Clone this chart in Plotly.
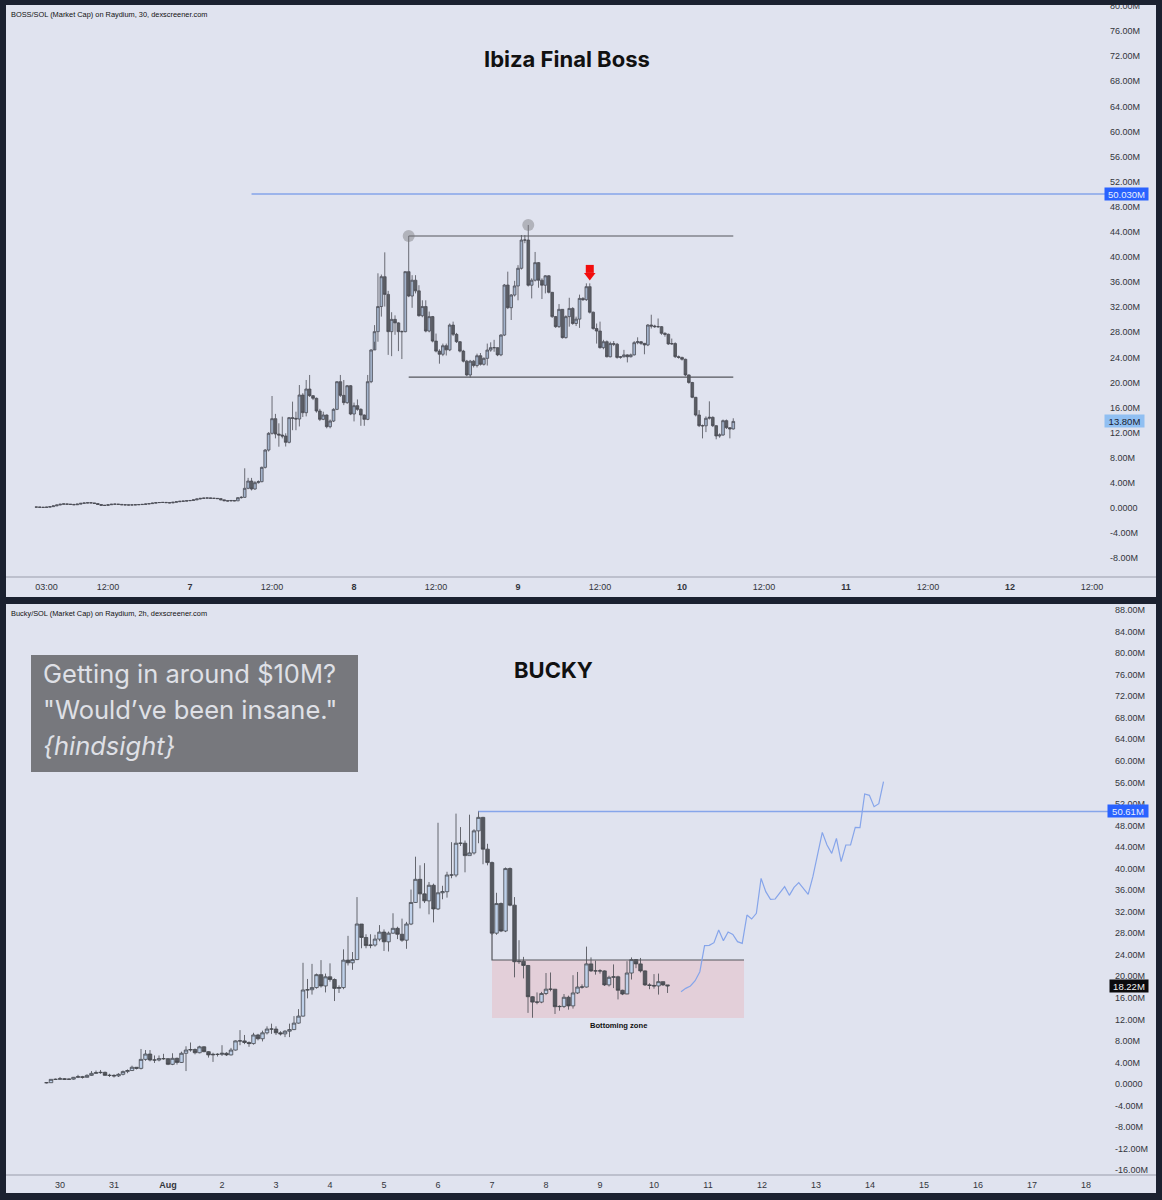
import pandas as pd
import plotly.graph_objects as go

W, H = 1162, 1200
BG = "#1b2130"
PANEL = "#e0e3ef"
BLUE = "#86a5ea"
WICK = "#4b4d55"
FONT = "Liberation Sans"

# ---- BOSS/SOL 30m, values in millions
boss_close = [
    .15, .12, .1, .14, .22, .34, .48, .6, .66, .6,
    .58, .52, .62, .75, .8, .84, .82, .72, .56, .43,
    .42, .52, .6, .62, .58, .52, .5, .48, .5, .52,
    .55, .58, .64, .7, .78, .86, .88, .9, .86, .82,
    .92, 1.0, 1.07, 1.1, 1.16, 1.2, 1.3, 1.44, 1.54, 1.58,
    1.6, 1.56, 1.54, 1.5, 1.3, 1.17, 1.12, 1.2, 1.14, 1.65,
    1.7, 3.14, 4.3, 3.03, 4.04, 4.2, 6.48, 9.24, 11.9, 14.24,
    11.79, 11.63, 11.47, 10.47, 14.4, 14.29, 14.18, 18.0, 15.19, 18.96,
    17.9, 17.48, 15.46, 14.13, 14.82, 12.96, 13.86, 15.72, 20.13, 17.95,
    16.79, 19.49, 14.98, 16.31, 15.72, 14.82, 14.13, 20.13, 25.18,
    28.1, 32.1, 36.86, 34.04, 28.1, 30.06, 29.5, 28.1, 28.1, 37.66,
    33.78, 36.3, 34.6, 30.64, 32.1, 28.2, 30.5, 26.6, 25.0, 24.5,
    25.86, 25.2, 29.15, 27.67, 26.5, 25.0, 23.4, 21.2, 23.4, 22.7,
    24.27, 22.9, 23.85, 25.17, 25.55, 25.55, 24.4, 27.56, 35.53, 31.92,
    33.94, 35.38, 38.2, 42.7, 42.7, 35.5, 36.3, 39.1, 36.3, 35.5,
    37.0, 34.37, 30.5, 28.9, 31.66, 27.15, 30.5, 31.8, 29.4, 30.1,
    33.4, 33.2, 35.27, 31.2, 28.6, 28.2, 25.55, 26.5, 24.1, 26.2, 26.1,
    24.0, 24.1, 24.4, 24.1, 24.4, 26.35, 26.5, 26.24, 25.98, 29.16,
    29.0, 28.9, 28.9, 27.84, 27.68, 26.14, 26.2, 24.12, 24.0, 23.7,
    21.2, 20.0, 17.64, 14.82, 13.12, 13.1, 14.3, 14.45, 13.12, 11.48,
    11.64, 13.92, 12.8, 12.6, 13.8,
]
boss_high = [
    .2, .18, .16, .2, .28, .4, .54, .66, .72, .68,
    .64, .6, .68, .8, .86, .9, .9, .8, .7, .5,
    .48, .58, .66, .68, .64, .58, .56, .54, .56, .58,
    .6, .64, .7, .76, .84, .92, .94, .96, .94, .9,
    .98, 1.06, 1.14, 1.16, 1.22, 1.26, 1.36, 1.5, 1.6, 1.64,
    1.66, 1.64, 1.6, 1.58, 1.52, 1.24, 1.2, 1.28, 1.22, 1.75,
    1.9, 6.33, 4.8, 4.8, 4.3, 4.4, 6.6, 9.4, 12.1, 17.85,
    15.0, 13.5, 14.56, 11.9, 14.5, 16.95, 15.35, 19.6, 18.3, 20.4,
    21.2, 18.0, 17.6, 15.8, 15.35, 14.9, 14.1, 15.9, 20.2, 21.2,
    20.4, 19.6, 19.6, 16.8, 17.3, 15.9, 14.9, 21.2, 25.3,
    29.15, 37.4, 37.2, 40.74, 34.6, 31.2, 30.7, 29.6, 28.3, 37.7,
    43.34, 37.1, 37.1, 35.5, 33.1, 33.1, 31.3, 30.6, 27.8, 25.3,
    26.2, 26.2, 29.4, 29.7, 27.9, 26.6, 25.2, 23.6, 23.6, 23.6,
    24.6, 24.7, 24.0, 26.2, 26.4, 26.8, 25.6, 27.7, 35.7, 37.66,
    34.1, 36.2, 38.7, 43.5, 43.5, 45.1, 36.6, 40.8, 39.2, 36.6,
    37.1, 37.1, 34.4, 30.6, 32.5, 31.7, 30.7, 33.5, 32.0, 30.5,
    34.0, 33.6, 35.8, 35.8, 31.3, 29.4, 29.7, 26.8, 26.7, 26.5, 26.6,
    26.3, 24.2, 25.2, 24.5, 24.6, 26.6, 27.2, 26.6, 26.3, 29.3,
    30.8, 29.2, 30.2, 29.0, 28.0, 27.8, 27.0, 26.4, 24.3, 24.1,
    23.8, 21.3, 20.1, 17.7, 15.6, 13.3, 14.6, 17.0, 14.6, 13.2,
    11.9, 14.1, 14.1, 12.9, 14.3,
]
boss_low = [
    .1, .08, .06, .08, .12, .2, .3, .44, .56, .54,
    .52, .46, .48, .58, .72, .76, .76, .66, .5, .38,
    .36, .38, .48, .56, .52, .46, .44, .42, .44, .46,
    .48, .52, .54, .62, .66, .74, .82, .82, .8, .76,
    .76, .88, .96, 1.02, 1.06, 1.12, 1.18, 1.26, 1.38, 1.5,
    1.52, 1.5, 1.48, 1.44, 1.24, 1.1, 1.06, 1.08, 1.08, 1.15,
    1.5, 1.6, 3.0, 2.8, 2.9, 3.9, 4.1, 6.3, 9.0, 11.7,
    11.1, 9.77, 11.1, 9.8, 10.3, 12.4, 12.4, 13.0, 14.5, 14.6,
    17.7, 17.2, 15.2, 13.86, 14.0, 12.7, 12.7, 13.7, 15.6, 17.7,
    16.4, 16.6, 14.8, 13.8, 15.5, 13.1, 13.1, 14.0, 19.9,
    26.5, 26.5, 30.5, 32.1, 24.4, 24.2, 27.6, 25.0, 23.74, 28.0,
    33.6, 31.9, 34.2, 30.5, 30.4, 28.0, 28.0, 26.4, 24.8, 23.0,
    24.2, 24.3, 25.0, 27.4, 26.3, 24.8, 23.2, 21.0, 20.8, 22.4,
    22.4, 22.7, 22.7, 22.7, 24.9, 24.9, 24.2, 24.2, 27.4, 31.7,
    29.96, 33.7, 33.1, 38.0, 42.2, 35.3, 33.4, 36.1, 35.1, 33.3,
    34.2, 34.2, 30.3, 28.7, 28.7, 27.0, 27.0, 28.9, 29.2, 29.0,
    28.7, 33.0, 33.0, 31.0, 28.4, 26.2, 25.4, 25.3, 24.0, 24.0, 25.8,
    23.8, 23.8, 24.0, 23.2, 24.0, 24.3, 26.1, 26.0, 24.5, 25.8,
    28.6, 28.7, 28.7, 27.6, 27.3, 26.0, 26.0, 23.9, 23.8, 23.5,
    21.0, 19.8, 17.5, 14.6, 12.9, 11.1, 12.1, 14.1, 12.9, 10.95,
    11.2, 11.5, 12.6, 11.1, 12.5,
]

# ---- Bucky/SOL 2h, values in millions
bucky_close = [
    .24, .86, .86, .98, .86, .9, 1.24, 1.35, 1.24, 1.6,
    1.97, 2.1, 2.16, 1.6, 1.6, 1.5, 1.8, 2.3, 2.5, 3.1,
    2.9, 4.57, 5.56, 4.45, 4.45, 4.7, 4.7, 3.65, 4.76, 4.0,
    5.7, 6.3, 6.4, 5.8, 6.9, 6.0, 5.4, 5.5, 5.5, 5.7,
    5.4, 6.3, 8.0, 8.0, 7.7, 7.5, 9.1, 8.4, 9.5, 10.2,
    10.2, 9.5, 9.3, 9.8, 10.1, 11.3, 12.6, 17.45, 17.5, 17.9,
    20.3, 18.2, 19.9, 19.4, 17.75, 17.9, 23.0,
    22.5, 23.1, 29.7, 27.2, 25.7, 25.8, 26.9, 28.2, 26.4, 28.0,
    28.9, 27.8, 26.7, 29.7, 33.7, 38.0, 35.3, 34.0, 36.9, 32.5,
    35.5, 35.7, 38.8, 38.8, 44.7, 44.7, 42.4, 42.9, 47.0, 49.5,
    43.6, 41.1, 28.0, 33.5, 28.4, 40.0, 33.2, 22.7, 22.8, 22.0,
    16.2, 15.2, 15.2, 16.8, 17.6, 17.6, 14.35, 14.4, 16.1, 14.5,
    16.9, 18.0, 18.0, 22.3, 21.0, 21.0, 21.0, 18.4, 19.8, 19.9,
    17.4, 16.7, 20.6, 23.1, 22.3, 21.0, 18.4, 18.3, 18.2, 19.0,
    18.4, 18.22,
]
bucky_high = [
    .3, .9, 1.0, 1.3, 1.1, 1.0, 1.3, 1.7, 1.5, 1.8,
    2.4, 2.5, 2.6, 2.3, 1.9, 1.8, 2.0, 2.5, 2.7, 3.4,
    3.1, 6.5, 6.3, 6.3, 5.3, 5.3, 5.6, 4.8, 5.7, 4.9,
    6.0, 7.0, 7.7, 6.6, 7.1, 7.0, 6.1, 5.8, 5.7, 7.2,
    5.9, 6.7, 8.1, 10.0, 9.1, 7.9, 9.5, 9.3, 9.9, 10.7,
    11.2, 10.7, 9.8, 10.0, 11.2, 12.6, 13.9, 22.5, 19.5, 22.3,
    20.5, 23.0, 20.5, 22.4, 19.6, 18.3, 25.0,
    27.5, 24.5, 34.7, 29.7, 27.8, 27.8, 27.7, 29.5, 28.7, 28.3,
    31.7, 29.2, 30.7, 30.1, 36.1, 42.2, 40.6, 41.0, 37.5, 37.2,
    48.5, 36.8, 39.4, 44.9, 50.2, 47.7, 45.2, 50.0, 47.3, 50.7,
    49.6, 44.6, 41.3, 35.5, 33.7, 40.2, 40.2, 34.7, 26.7, 23.6,
    22.1, 16.3, 17.0, 17.1, 20.6, 20.7, 17.6, 14.6, 16.7, 16.4,
    20.2, 20.8, 18.5, 25.5, 23.5, 22.9, 21.3, 21.1, 20.1, 22.2,
    20.1, 17.5, 22.8, 23.5, 23.2, 23.4, 21.1, 18.7, 20.4, 20.5,
    19.0, 18.4,
]
bucky_low = [
    .1, .2, .8, .8, .75, .8, .8, 1.1, 1.0, 1.4,
    1.5, 1.9, 1.9, 1.5, 1.3, 1.2, 1.3, 1.6, 2.0, 2.4,
    2.7, 2.7, 4.3, 4.2, 3.9, 4.2, 4.5, 3.5, 3.5, 3.6,
    3.9, 2.4, 6.0, 5.5, 5.7, 5.9, 4.9, 4.1, 5.1, 5.2,
    5.2, 5.3, 6.2, 7.2, 7.4, 6.9, 7.3, 8.1, 7.9, 9.2,
    9.3, 9.1, 9.0, 8.7, 8.7, 10.0, 11.2, 12.5, 15.9, 16.6,
    17.7, 17.9, 17.0, 19.0, 15.4, 16.9, 17.6,
    22.0, 21.2, 23.0, 25.2, 25.2, 25.2, 25.5, 26.5, 24.7, 24.6,
    27.9, 26.9, 26.4, 25.1, 29.5, 33.8, 32.6, 33.6, 31.5, 30.0,
    32.3, 34.3, 34.6, 38.2, 38.4, 44.2, 39.3, 42.4, 42.6, 44.7,
    40.8, 40.6, 27.7, 27.7, 28.2, 28.2, 33.0, 19.8, 22.3, 19.6,
    13.2, 12.3, 14.8, 15.0, 16.5, 17.2, 13.0, 13.6, 14.1, 13.8,
    14.0, 16.7, 17.7, 17.9, 20.8, 20.3, 20.5, 18.2, 18.1, 17.8,
    15.7, 16.5, 16.8, 19.4, 21.5, 20.7, 18.2, 17.6, 17.7, 16.6,
    18.2, 16.9,
]

# hand drawn projection after the last Bucky bar
bucky_proj = [
    17.14, 17.75, 18.19, 19.18, 20.85, 25.68, 25.74, 26.24, 28.59, 26.61,
    28.22, 27.78, 26.42, 26.11, 31.37, 30.63, 31.68, 38.18, 35.71, 34.28,
    34.35, 35.4, 36.63, 35.03, 36.51, 37.38, 36.33, 35.21, 38.49, 42.52,
    46.72, 44.37, 42.82, 45.61, 41.28, 44.37, 44.37, 47.65, 47.59, 53.84,
    53.6, 51.49, 52.05, 56.13,
]

boss_ticks = [80, 76, 72, 68, 64, 60, 56, 52, 48, 44, 40, 36, 32, 28, 24, 20, 16, 12, 8, 4, 0, -4, -8]
bucky_ticks = [88, 84, 80, 76, 72, 68, 64, 60, 56, 52, 48, 44, 40, 36, 32, 28, 24, 20, 16, 12, 8, 4, 0, -4, -8, -12, -16]

boss_xticks = ["2024-08-06 03:00", "2024-08-06 12:00", "2024-08-07", "2024-08-07 12:00", "2024-08-08",
               "2024-08-08 12:00", "2024-08-09", "2024-08-09 12:00", "2024-08-10", "2024-08-10 12:00",
               "2024-08-11", "2024-08-11 12:00", "2024-08-12", "2024-08-12 12:00"]
boss_xlabels = ["03:00", "12:00", "<b>7</b>", "12:00", "<b>8</b>", "12:00", "<b>9</b>", "12:00",
                "<b>10</b>", "12:00", "<b>11</b>", "12:00", "<b>12</b>", "12:00"]
bucky_xticks = ["2024-07-30", "2024-07-31"] + [f"2024-08-{d:02d}" for d in range(1, 19)]
bucky_xlabels = ["30", "31", "<b>Aug</b>"] + [str(d) for d in range(2, 19)]


def money(v):
    return "0.0000" if v == 0 else f"{v:.2f}M"


def px_x(p):
    return p / W


def px_y(p):
    return 1 - p / H


boss_x = pd.date_range(end="2024-08-10 07:30", periods=len(boss_close), freq="30min")
bucky_x = pd.date_range(end="2024-08-10 06:00", periods=len(bucky_close), freq="2h")
proj_x = pd.date_range("2024-08-10 12:00", "2024-08-14 06:00", periods=len(bucky_proj))

boss_open = [boss_close[0]] + boss_close[:-1]
bucky_open = [bucky_close[0]] + bucky_close[:-1]

fig = go.Figure()

fig.add_trace(go.Candlestick(
    x=boss_x, open=boss_open, high=boss_high, low=boss_low, close=boss_close,
    xaxis="x", yaxis="y",
    increasing=dict(fillcolor="#a3b3cb", line=dict(color=WICK, width=0.8)),
    decreasing=dict(fillcolor="#5a5d64", line=dict(color=WICK, width=0.8)),
))
fig.add_trace(go.Candlestick(
    x=bucky_x, open=bucky_open, high=bucky_high, low=bucky_low, close=bucky_close,
    xaxis="x2", yaxis="y2",
    increasing=dict(fillcolor="#bed0e9", line=dict(color="#45474e", width=0.8)),
    decreasing=dict(fillcolor="#55585f", line=dict(color="#45474e", width=0.8)),
))


def line(x, y, color, axis="", width=1.5):
    fig.add_trace(go.Scatter(x=x, y=y, mode="lines", xaxis="x" + axis, yaxis="y" + axis,
                             line=dict(color=color, width=width)))


# levels on the BOSS panel
line(["2024-08-08 08:00", "2024-08-10 07:30"], [43.34, 43.34], "#55565c", width=1.2)
line(["2024-08-08 08:00", "2024-08-10 07:30"], [20.87, 20.87], "#55565c", width=1.2)
line(["2024-08-07 09:00", "2024-08-12 14:00"], [50.03, 50.03], BLUE)
fig.add_trace(go.Scatter(x=["2024-08-08 08:00", "2024-08-09 01:30"], y=[43.34, 45.09], mode="markers",
                         marker=dict(size=12, color="rgba(120,120,125,0.45)")))
# red arrow, stem plus head
fig.add_trace(go.Scatter(x=["2024-08-09 10:30"], y=[38.1], mode="markers",
                         marker=dict(symbol="square", size=8, color="#f20d0d")))
fig.add_trace(go.Scatter(x=["2024-08-09 10:30"], y=[37.05], mode="markers",
                         marker=dict(symbol="triangle-down", size=10, color="#f20d0d")))

# levels on the Bucky panel
line(["2024-08-06 18:00", "2024-08-18 10:00"], [50.61, 50.61], BLUE, "2")
line(["2024-08-07", "2024-08-07", "2024-08-11 16:00"], [28.0, 23.02, 23.02], "#55565c", "2", width=1.2)
line(proj_x, bucky_proj, BLUE, "2", width=1.2)

shapes = [
    # the two panels
    dict(type="rect", xref="paper", yref="paper", layer="below", fillcolor=PANEL, line_width=0,
         x0=px_x(6), x1=px_x(1156), y0=px_y(597), y1=px_y(5)),
    dict(type="rect", xref="paper", yref="paper", layer="below", fillcolor=PANEL, line_width=0,
         x0=px_x(6), x1=px_x(1156), y0=px_y(1193), y1=px_y(604)),
    # bottoming zone
    dict(type="rect", xref="x2", yref="y2", layer="below", fillcolor="#e3cfd9", line_width=0,
         x0="2024-08-07", x1="2024-08-11 16:00", y0=12.25, y1=23.02),
    # time scale rules
    dict(type="line", xref="paper", yref="paper", line=dict(color="#9a9eac", width=1.2),
         x0=px_x(6), x1=px_x(1156), y0=px_y(577), y1=px_y(577)),
    dict(type="line", xref="paper", yref="paper", line=dict(color="#9a9eac", width=1.2),
         x0=px_x(6), x1=px_x(1156), y0=px_y(1175), y1=px_y(1175)),
    # cuts the 80.00M label at the panel edge
    dict(type="rect", xref="paper", yref="paper", layer="above", fillcolor=BG, line_width=0,
         x0=0, x1=1, y0=px_y(5), y1=1),
    # quote box
    dict(type="rect", xref="paper", yref="paper", layer="above", fillcolor="#77787d", line_width=0,
         x0=px_x(31), x1=px_x(358), y0=px_y(772), y1=px_y(655)),
]


def text(s, x, y, size, color="#111", anchor="left", family=FONT):
    return dict(text=s, xref="paper", yref="paper", x=px_x(x), y=px_y(y), xanchor=anchor, yanchor="middle",
                showarrow=False, font=dict(size=size, color=color, family=family))


def tag(s, v, axis, x, w, bg, color):
    return dict(text=s, xref="paper", yref=axis, x=px_x(x), y=v, xanchor="left", yanchor="middle",
                showarrow=False, bgcolor=bg, width=w, height=12, align="center", borderpad=0,
                font=dict(size=9.5, color=color, family=FONT))


annotations = [
    text("BOSS/SOL (Market Cap) on Raydium, 30, dexscreener.com", 9, 15, 7.4),
    text("Bucky/SOL (Market Cap) on Raydium, 2h, dexscreener.com", 9, 613, 7.4),
    text("<b>Ibiza Final Boss</b>", 567, 59, 22, anchor="center", family="Inter"),
    text("<b>BUCKY</b>", 553, 670, 22, anchor="center", family="Inter"),
    text("<b>Bottoming zone</b>", 618, 1025, 7.6, anchor="center"),
    text("Getting in around $10M?", 41, 673, 25.5, "#dfe0e6", family="Inter"),
    text("\"Would’ve been insane.\"", 41, 709, 25.5, "#dfe0e6", family="Inter"),
    text("<i>{hindsight}</i>", 41, 745, 25.5, "#dfe0e6", family="Inter"),
    tag("50.030M", 50.03, "y", 1104, 43, "#2962ff", "#e8eefc"),
    tag("13.80M", 13.8, "y", 1104, 39, "#90bff2", "#1b2130"),
    tag("50.61M", 50.61, "y2", 1107, 40, "#2962ff", "#e8eefc"),
    tag("18.22M", 18.22, "y2", 1109, 38, "#0b0b0d", "#f2f2f2"),
]

axis_font = dict(size=9, color="#33353c", family=FONT)
time_font = dict(size=9, color="#33353c", family=FONT)

fig.update_layout(
    width=W, height=H, margin=dict(l=0, r=0, t=0, b=0), autosize=False,
    paper_bgcolor=BG, plot_bgcolor="rgba(0,0,0,0)", showlegend=False, hovermode=False,
    boxgap=0.22, boxgroupgap=0,
    shapes=shapes, annotations=annotations,
    xaxis=dict(domain=[px_x(6), px_x(1105)], anchor="y", range=["2024-08-05 21:04", "2024-08-12 13:54"],
               tickmode="array", tickvals=boss_xticks, ticktext=boss_xlabels, tickfont=time_font, automargin=False,
               showgrid=False, zeroline=False, ticks="", ticklabelstandoff=3, rangeslider=dict(visible=False)),
    yaxis=dict(domain=[px_y(577), px_y(5)], anchor="x", side="right", range=[-10.99, 80.15], automargin=False,
               tickmode="array", tickvals=boss_ticks, ticktext=[money(v) for v in boss_ticks],
               tickfont=axis_font, showgrid=False, zeroline=False, ticks="", ticklabelstandoff=4),
    xaxis2=dict(domain=[px_x(6), px_x(1108)], anchor="y2", range=["2024-07-29", "2024-08-18 09:46"],
                tickmode="array", tickvals=bucky_xticks, ticktext=bucky_xlabels, tickfont=time_font, automargin=False,
                showgrid=False, zeroline=False, ticks="", ticklabelstandoff=3, rangeslider=dict(visible=False)),
    yaxis2=dict(domain=[px_y(1175), px_y(604)], anchor="x2", side="right", range=[-16.9, 89.12], automargin=False,
                tickmode="array", tickvals=bucky_ticks, ticktext=[money(v) for v in bucky_ticks],
                tickfont=axis_font, showgrid=False, zeroline=False, ticks="", ticklabelstandoff=6),
)

fig.write_html("out.html", config=dict(displayModeBar=False), post_script="document.body.style.margin = '0';")
